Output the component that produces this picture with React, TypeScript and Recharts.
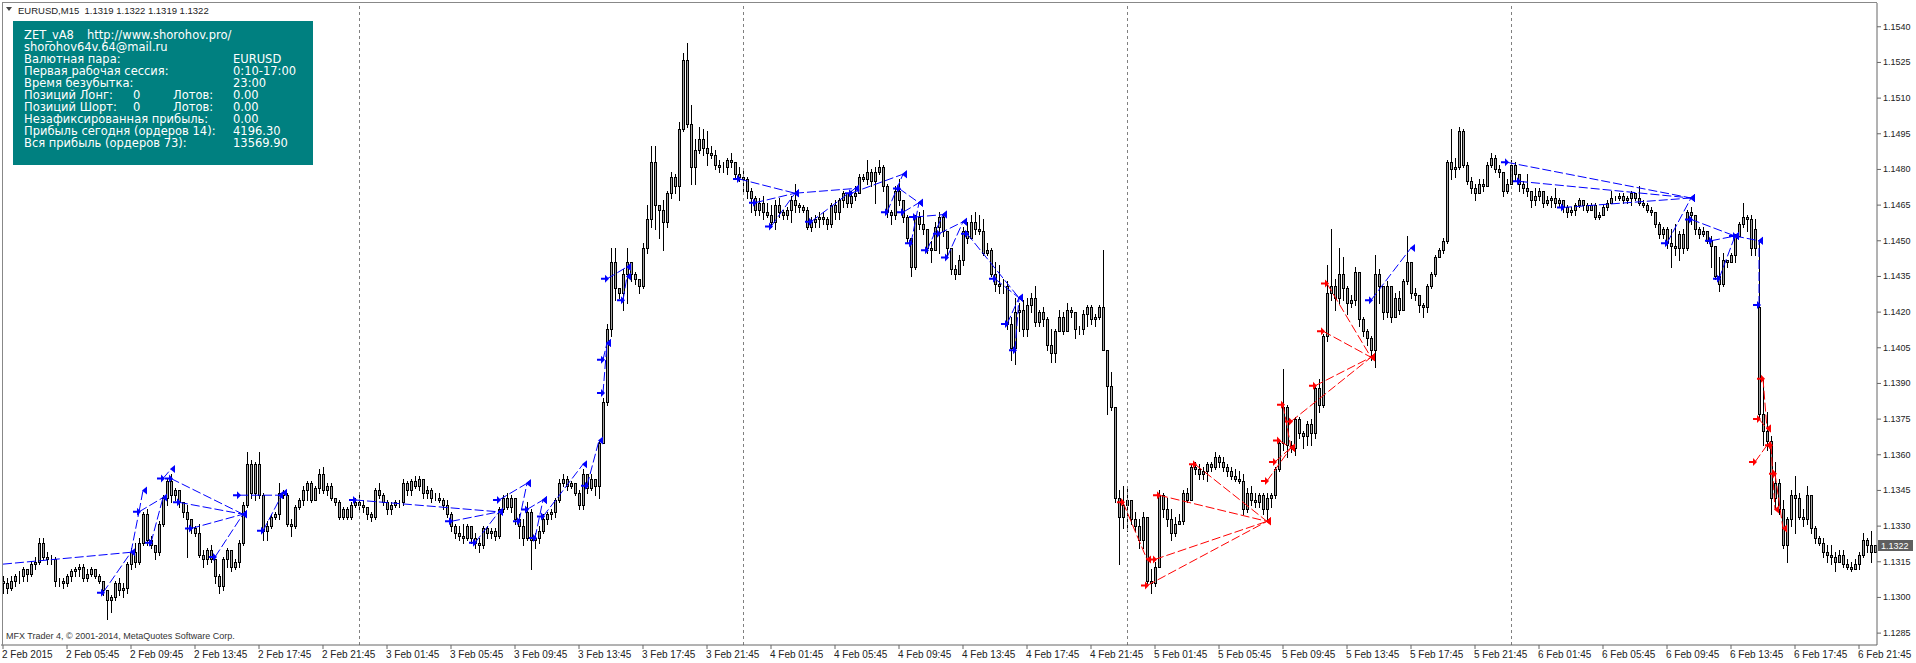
import { Bar, ComposedChart, ReferenceDot, ReferenceLine, XAxis, YAxis } from "recharts";

const BASE = 1.1;
const PIP = 0.0001;
const FONT = "'Liberation Sans', Arial, sans-serif";
const BOX_FONT = "'DejaVu Sans', Verdana, sans-serif";

// EURUSD M15 bars as [high, low, close] in pips above 1.1000 (open = previous close)
const feb2Bars = [
  [309, 302, 306], [308, 302, 304], [309, 303, 307], [310, 305, 309], [311, 306, 309], [313, 307, 312], [312, 307, 310], [315, 309, 314], [317, 312, 315], [325, 314, 323],
  [325, 316, 317], [319, 314, 316], [318, 314, 316], [317, 305, 307], [308, 305, 307], [308, 304, 306], [310, 305, 309], [312, 307, 311], [313, 309, 312], [314, 309, 313],
  [314, 307, 308], [312, 307, 310], [313, 309, 312], [312, 308, 309], [310, 306, 307], [306, 301, 303], [302, 291, 299], [301, 294, 300], [307, 299, 306], [308, 301, 303],
  [306, 300, 304], [315, 302, 314], [321, 312, 319], [323, 313, 315], [325, 314, 323], [336, 322, 335], [337, 322, 324], [326, 321, 322], [322, 316, 319], [332, 318, 331],
  [343, 330, 342], [350, 339, 349], [352, 340, 343], [346, 341, 345], [345, 338, 340], [340, 334, 336], [339, 317, 333], [333, 327, 329], [330, 326, 327], [331, 317, 318],
  [320, 313, 316], [321, 314, 320], [322, 315, 316], [316, 306, 309], [310, 302, 305], [317, 303, 316], [321, 313, 320], [320, 311, 313], [316, 312, 315], [324, 313, 323],
  [340, 322, 339], [361, 338, 356], [358, 342, 344], [357, 341, 356], [361, 342, 343], [344, 324, 328], [332, 324, 330], [335, 329, 334], [336, 333, 335], [348, 333, 344],
  [345, 342, 343], [344, 330, 331], [333, 326, 330], [339, 329, 338], [342, 337, 341], [347, 339, 345], [349, 341, 348], [349, 340, 341], [347, 342, 346], [354, 344, 352],
  [355, 344, 345], [348, 343, 347], [348, 341, 342], [342, 339, 340], [341, 333, 334], [338, 333, 337], [338, 333, 334], [340, 333, 339], [342, 338, 340],
];

const feb3Bars = [
  [343, 337, 339], [341, 336, 338], [338, 333, 335], [336, 332, 334], [346, 333, 345], [348, 342, 343], [344, 339, 340], [341, 335, 337], [340, 335, 339], [341, 338, 340],
  [341, 338, 340], [350, 339, 348], [349, 343, 345], [350, 343, 349], [351, 346, 347], [351, 345, 350], [349, 342, 344], [347, 342, 345], [346, 340, 342], [344, 341, 342],
  [344, 340, 341], [342, 337, 339], [341, 334, 335], [336, 328, 330], [331, 325, 327], [330, 324, 326], [331, 323, 325], [331, 324, 330], [330, 323, 325], [327, 321, 323],
  [325, 319, 322], [330, 321, 329], [330, 325, 327], [329, 325, 328], [329, 324, 326], [338, 325, 337], [343, 336, 342], [344, 337, 338], [343, 336, 342], [342, 331, 333],
  [335, 325, 330], [333, 322, 325], [340, 324, 336], [337, 312, 324], [327, 321, 325], [330, 323, 328], [335, 327, 333], [336, 331, 335], [337, 333, 336], [342, 334, 341],
  [350, 340, 348], [352, 347, 350], [351, 345, 347], [349, 346, 348], [348, 343, 344], [345, 337, 339], [354, 337, 352], [349, 344, 346], [352, 345, 350], [350, 343, 347],
  [366, 342, 365], [384, 365, 382], [415, 381, 413], [447, 410, 441], [447, 425, 430], [430, 426, 428], [438, 421, 436], [447, 424, 441], [440, 433, 436], [437, 432, 434],
  [433, 428, 431], [449, 430, 447], [465, 445, 459], [490, 456, 483], [490, 455, 465], [465, 451, 463], [467, 446, 458], [471, 456, 470], [479, 468, 477], [478, 470, 473],
  [500, 467, 497], [529, 496, 526], [533, 498, 499], [507, 474, 481], [493, 474, 488], [498, 487, 493], [497, 486, 489], [496, 482, 487], [490, 485, 486], [488, 480, 482],
  [484, 479, 481], [483, 479, 481], [485, 478, 484], [487, 481, 483], [483, 476, 478], [481, 475, 477],
];

const feb4Bars = [
  [480, 470, 476], [477, 468, 471], [472, 462, 468], [469, 461, 463], [468, 461, 466], [469, 459, 462], [466, 460, 461], [465, 456, 458], [467, 455, 465], [468, 460, 462],
  [463, 459, 461], [464, 459, 463], [469, 458, 467], [474, 462, 465], [466, 462, 464], [465, 462, 463], [464, 455, 456], [460, 454, 458], [461, 456, 459], [462, 456, 460],
  [462, 457, 459], [460, 455, 457], [466, 456, 465], [467, 459, 462], [468, 459, 467], [471, 464, 470], [470, 464, 466], [471, 464, 469], [473, 467, 470], [478, 470, 477],
  [478, 475, 476], [484, 474, 479], [480, 473, 475], [481, 466, 479], [484, 478, 481], [482, 471, 473], [474, 460, 462], [463, 457, 461], [473, 459, 471], [476, 465, 467],
  [466, 458, 460], [461, 449, 451], [451, 435, 439], [461, 438, 460], [462, 455, 457], [463, 453, 455], [455, 445, 447], [450, 441, 446], [458, 448, 456], [462, 445, 460],
  [461, 452, 454], [450, 443, 447], [443, 436, 438], [440, 434, 436], [444, 437, 442], [456, 440, 454], [458, 449, 451], [461, 452, 458], [462, 453, 455], [461, 453, 454],
  [459, 444, 445], [449, 444, 446], [447, 435, 436], [441, 429, 432], [440, 428, 431], [434, 428, 431], [433, 413, 415], [418, 400, 405], [426, 398, 420], [424, 412, 421],
  [425, 410, 413], [426, 410, 423], [428, 420, 426], [431, 414, 416], [421, 414, 420], [422, 414, 417], [418, 404, 406], [413, 399, 403], [413, 399, 412], [421, 413, 418],
  [420, 411, 412], [424, 417, 421], [422, 418, 420], [420, 409, 413], [414, 411, 413], [421, 411, 419], [423, 414, 422], [423, 415, 417], [419, 414, 418], [423, 417, 422],
  [446, 404, 404], [404, 377, 389], [395, 379, 380], [380, 340, 342], [345, 314, 334], [347, 329, 339],
];

const feb5Bars = [
  [346, 328, 341], [338, 331, 333], [336, 328, 330], [333, 321, 324], [336, 321, 334], [325, 306, 307], [312, 302, 306], [315, 305, 313], [345, 315, 343], [344, 334, 337],
  [342, 330, 333], [337, 324, 327], [334, 326, 331], [335, 331, 332], [345, 331, 344], [346, 340, 341], [356, 341, 355], [357, 352, 354], [356, 350, 352], [355, 350, 353],
  [357, 349, 356], [357, 353, 355], [361, 354, 359], [360, 355, 357], [359, 353, 355], [356, 351, 353], [355, 350, 351], [354, 349, 350], [353, 348, 349], [352, 335, 337],
  [346, 336, 344], [347, 339, 341], [344, 338, 340], [344, 338, 343], [344, 335, 337], [344, 332, 342], [344, 338, 343], [355, 342, 354], [366, 353, 365], [396, 362, 380],
  [381, 359, 364], [366, 361, 363], [376, 360, 375], [376, 367, 369], [370, 363, 368], [374, 364, 373], [375, 364, 369], [389, 367, 388], [392, 378, 381], [411, 380, 410],
  [440, 408, 428], [455, 425, 431], [434, 421, 426], [447, 424, 436], [443, 425, 430], [431, 419, 424], [427, 422, 425], [439, 423, 437], [436, 414, 417], [418, 410, 412],
  [413, 406, 409], [410, 400, 404], [444, 397, 436], [438, 424, 431], [431, 417, 420], [433, 418, 431], [431, 416, 418], [428, 418, 426], [429, 419, 421], [434, 426, 433],
  [452, 432, 441], [441, 426, 428], [430, 425, 427], [427, 420, 423], [424, 418, 422], [432, 420, 431], [437, 430, 436], [444, 435, 443], [447, 443, 446], [451, 445, 450],
  [484, 449, 483], [497, 476, 480], [485, 477, 481], [498, 480, 496], [497, 481, 482], [483, 474, 475], [477, 470, 472], [474, 467, 470], [476, 470, 474], [476, 471, 473],
  [483, 474, 482], [487, 481, 485], [486, 479, 480], [482, 477, 479], [479, 469, 471], [476, 470, 474],
];

const feb6Bars = [
  [484, 474, 482], [483, 475, 478], [477, 471, 474], [475, 470, 472], [478, 469, 471], [471, 464, 467], [472, 465, 469], [472, 467, 471], [469, 464, 466], [469, 465, 467],
  [469, 464, 468], [472, 464, 466], [468, 464, 467], [467, 462, 464], [465, 460, 462], [464, 461, 463], [466, 461, 465], [468, 464, 467], [467, 463, 465], [466, 462, 463],
  [466, 463, 465], [466, 459, 460], [462, 459, 461], [465, 461, 464], [467, 463, 466], [471, 466, 468], [469, 467, 468], [470, 467, 469], [470, 466, 467], [469, 466, 468],
  [471, 465, 470], [470, 467, 468], [473, 465, 466], [467, 464, 465], [466, 462, 463], [464, 461, 462], [462, 456, 457], [458, 451, 453], [456, 451, 455], [456, 447, 449],
  [455, 439, 448], [457, 444, 447], [454, 442, 453], [455, 445, 447], [463, 446, 462], [464, 457, 461], [460, 453, 455], [456, 451, 453], [456, 452, 454], [452, 449, 450],
  [452, 439, 448], [447, 434, 435], [443, 429, 432], [445, 431, 442], [442, 439, 441], [445, 441, 444], [453, 441, 452], [458, 452, 457], [466, 456, 460], [461, 454, 459],
  [461, 444, 447], [459, 444, 455], [450, 376, 377], [392, 364, 370], [378, 362, 366], [368, 335, 342], [357, 337, 348], [350, 335, 337], [341, 321, 322], [334, 315, 333],
  [345, 330, 343], [351, 327, 342], [344, 333, 334], [337, 330, 333], [347, 331, 343], [343, 327, 329], [330, 323, 325], [326, 322, 323], [325, 317, 319], [322, 315, 318],
  [322, 314, 317], [319, 311, 315], [320, 317, 318], [320, 313, 314], [316, 312, 313], [315, 311, 312], [316, 312, 314], [319, 312, 318], [327, 317, 324], [325, 319, 322],
  [328, 315, 319], [322, 319, 322],
];

const firstOpen = 307;
// bars that opened with a gap: [bar index, open pips]
const gapOpens = [[439, 422]];

const timeLabels = [
  "2 Feb 2015", "2 Feb 05:45", "2 Feb 09:45", "2 Feb 13:45", "2 Feb 17:45", "2 Feb 21:45",
  "3 Feb 01:45", "3 Feb 05:45", "3 Feb 09:45", "3 Feb 13:45", "3 Feb 17:45", "3 Feb 21:45",
  "4 Feb 01:45", "4 Feb 05:45", "4 Feb 09:45", "4 Feb 13:45", "4 Feb 17:45", "4 Feb 21:45",
  "5 Feb 01:45", "5 Feb 05:45", "5 Feb 09:45", "5 Feb 13:45", "5 Feb 17:45", "5 Feb 21:45",
  "6 Feb 01:45", "6 Feb 05:45", "6 Feb 09:45", "6 Feb 13:45", "6 Feb 17:45", "6 Feb 21:45",
];

const priceTicks = [
  1.1285, 1.13, 1.1315, 1.133, 1.1345, 1.136, 1.1375, 1.139, 1.1405,
  1.142, 1.1435, 1.145, 1.1465, 1.148, 1.1495, 1.151, 1.1525, 1.154,
];

// trades: [openBar, openPips, closeBar, closePips]
const buyTrades = [
  [25, 302, 32, 319], [34, 336, 35, 345], [37, 323, 40, 342], [40, 350, 42, 354], [42, 350, 60, 335],
  [44, 340, 60, 335], [47, 329, 60, 335], [53, 317, 60, 335], [59, 343, 69, 343], [65, 328, 70, 344],
  [88, 341, 124, 336], [112, 332, 124, 336], [118, 323, 124, 336], [124, 341, 131, 348], [129, 332, 131, 348],
  [131, 337, 135, 341], [133, 325, 135, 341], [135, 334, 145, 356], [146, 347, 149, 366], [150, 400, 151, 407],
  [150, 386, 151, 407], [151, 434, 156, 439], [155, 425, 156, 435], [184, 476, 198, 470], [188, 466, 198, 470],
  [192, 456, 198, 470], [202, 458, 213, 472], [212, 470, 225, 478], [221, 462, 225, 478], [224, 472, 229, 466],
  [225, 462, 229, 466], [227, 449, 229, 466], [228, 460, 235, 461], [231, 446, 235, 461], [234, 453, 240, 458],
  [236, 443, 240, 458], [241, 453, 254, 426], [248, 434, 254, 426], [251, 415, 254, 426], [253, 404, 254, 426],
  [342, 425, 352, 447], [376, 483, 422, 468], [379, 475, 422, 468], [390, 464, 422, 468], [416, 449, 422, 468],
  [422, 459, 433, 452], [427, 450, 433, 452], [429, 434, 433, 452], [433, 452, 439, 450], [439, 423, 439, 450],
];

const buyLinks = [
  [0, 314, 32, 319], [32, 319, 34, 336], [34, 336, 40, 342], [198, 470, 213, 472],
];

const sellTrades = [
  [280, 340, 286, 316], [286, 305, 316, 332], [288, 316, 316, 332], [289, 343, 316, 332], [298, 356, 316, 332],
  [316, 349, 322, 363], [318, 357, 322, 363], [319, 366, 322, 363], [320, 381, 322, 363], [322, 374, 342, 401],
  [328, 389, 342, 401], [330, 412, 342, 401], [331, 432, 342, 401], [440, 392, 441, 371], [439, 375, 441, 371],
  [438, 357, 441, 364], [442, 364, 443, 337], [443, 352, 445, 329],
];

const px = (p: number) => BASE + p * PIP;

type Row = { i: number; o: number; h: number; l: number; c: number; range: [number, number] };

const days = [feb2Bars, feb3Bars, feb4Bars, feb5Bars, feb6Bars];
const gapMap = new Map(gapOpens.map(([i, o]) => [i, o]));
const rows: Row[] = [];
const dayStarts: number[] = [];
let prevClose = firstOpen;
days.forEach((day, d) => {
  if (d > 0) dayStarts.push(rows.length);
  day.forEach(([h, l, c]) => {
    const o = gapMap.get(rows.length) ?? prevClose;
    const hi = Math.max(h, o, c);
    const lo = Math.min(l, o, c);
    rows.push({ i: rows.length, o, h: hi, l: lo, c, range: [px(lo), px(hi)] });
    prevClose = c;
  });
});
const lastBar = rows[rows.length - 1];
const timeTicks = timeLabels.map((_, k) => k * 16);

function Candle(props: any) {
  const { x, y, width, height, payload } = props;
  const cx = Math.round(x + width / 2);
  const { o, h, l, c } = payload as Row;
  const span = h - l || 1;
  const py = (v: number) => y + ((h - v) / span) * height;
  const top = Math.round(py(Math.max(o, c)));
  const bot = Math.round(py(Math.min(o, c)));
  return (
    <g>
      <line x1={cx + 0.5} x2={cx + 0.5} y1={Math.round(y)} y2={Math.round(y + height) + 1} stroke="#000" strokeWidth={1} />
      <rect x={cx - 0.5} y={top + 0.5} width={2} height={Math.max(bot - top, 0)} fill="#a0a0a0" stroke="#000" strokeWidth={1} />
    </g>
  );
}

function OpenMark({ cx, cy, color }: any) {
  const pts = [
    [cx - 6, cy - 1], [cx - 2, cy - 1], [cx - 2, cy - 4], [cx + 2, cy], [cx - 2, cy + 4], [cx - 2, cy + 1], [cx - 6, cy + 1],
  ].map((p) => p.join(",")).join(" ");
  return <polygon points={pts} fill={color} />;
}

function CloseMark({ cx, cy, color }: any) {
  return <polygon points={`${cx - 1},${cy} ${cx + 4},${cy - 4} ${cx + 4},${cy + 4}`} fill={color} />;
}

function TimeTick({ x, y, payload }: any) {
  return (
    <text x={x - 1} y={y + 7} fontSize={10} fontFamily={FONT} fill="#222">
      {timeLabels[payload.value / 16]}
    </text>
  );
}

function PriceTick({ x, y, payload }: any) {
  return (
    <text x={x} y={y + 3} fontSize={9} fontFamily={FONT} fill="#222">
      {Number(payload.value).toFixed(4)}
    </text>
  );
}

function PriceTag({ cx, cy }: any) {
  const y0 = Math.round(cy) - 5;
  return (
    <g>
      <rect x={cx + 3} y={y0} width={35} height={11} fill="#5f5f5f" />
      <text x={cx + 6} y={y0 + 9} fontSize={9} fontFamily={FONT} fill="#fff">
        {px(lastBar.c).toFixed(4)}
      </text>
    </g>
  );
}

function tradeElements(list: number[][], color: string, key: string, marks: boolean) {
  const out: any[] = [];
  list.forEach(([b1, p1, b2, p2], k) => {
    out.push(
      <ReferenceLine
        key={`${key}l${k}`}
        segment={[{ x: b1, y: px(p1) }, { x: b2, y: px(p2) }]}
        stroke={color}
        strokeWidth={1}
        strokeDasharray="9 3"
        ifOverflow="visible"
      />
    );
    if (marks) {
      out.push(
        <ReferenceDot key={`${key}o${k}`} x={b1} y={px(p1)} r={3} ifOverflow="visible"
          shape={(p: any) => <OpenMark cx={p.cx} cy={p.cy} color={color} />} />,
        <ReferenceDot key={`${key}c${k}`} x={b2} y={px(p2)} r={3} ifOverflow="visible"
          shape={(p: any) => <CloseMark cx={p.cx} cy={p.cy} color={color} />} />
      );
    }
  });
  return out;
}

const Cell = ({ left, children }: any) => (
  <span style={{ position: "absolute", left, top: 0, whiteSpace: "pre" }}>{children}</span>
);

const infoRows: [number, string][][] = [
  [[11, "ZET_vA8"], [74, "http://www.shorohov.pro/"]],
  [[11, "shorohov64v.64@mail.ru"]],
  [[11, "Валютная пара:"], [220, "EURUSD"]],
  [[11, "Первая рабочая сессия:"], [220, "0:10-17:00"]],
  [[11, "Время безубытка:"], [220, "23:00"]],
  [[11, "Позиций Лонг:"], [120, "0"], [160, "Лотов:"], [220, "0.00"]],
  [[11, "Позиций Шорт:"], [120, "0"], [160, "Лотов:"], [220, "0.00"]],
  [[11, "Незафиксированная прибыль:"], [220, "0.00"]],
  [[11, "Прибыль сегодня (ордеров 14):"], [220, "4196.30"]],
  [[11, "Вся прибыль (ордеров 73):"], [220, "13569.90"]],
];

export default function App() {
  const header = `EURUSD,M15  ${px(lastBar.o).toFixed(4)} ${px(lastBar.h).toFixed(4)} ${px(lastBar.l).toFixed(4)} ${px(lastBar.c).toFixed(4)}`;
  return (
    <div style={{ position: "absolute", left: 0, top: 0, width: 1916, height: 663, background: "#fff", overflow: "hidden" }}>
      <ComposedChart
        width={1916}
        height={663}
        data={rows}
        margin={{ top: 3, right: 0, bottom: 0, left: 1 }}
        barCategoryGap={0}
      >
        <XAxis
          dataKey="i"
          type="category"
          ticks={timeTicks}
          interval={0}
          height={18}
          tickSize={4}
          tick={<TimeTick />}
          axisLine={{ stroke: "#666" }}
          tickLine={{ stroke: "#666" }}
        />
        <YAxis
          orientation="right"
          width={39}
          domain={[1.128, 1.155]}
          allowDataOverflow
          ticks={priceTicks}
          interval={0}
          tickSize={4}
          tick={<PriceTick />}
          axisLine={{ stroke: "#666" }}
          tickLine={{ stroke: "#666" }}
        />
        {dayStarts.map((s) => (
          <ReferenceLine
            key={`sep${s}`}
            x={s}
            stroke="#808080"
            strokeDasharray="3 3"
            shape={(p: any) => (
              <line x1={p.x1 + 0.5} x2={p.x2 + 0.5} y1={p.y1} y2={p.y2} stroke="#808080" strokeDasharray="3 3" />
            )}
          />
        ))}
        <Bar dataKey="range" shape={<Candle />} isAnimationActive={false} />
        {tradeElements(buyLinks, "#0000ff", "bl", false)}
        {tradeElements(buyTrades, "#0000ff", "b", true)}
        {tradeElements(sellTrades, "#ff0000", "s", true)}
        <ReferenceDot x={lastBar.i} y={px(lastBar.c)} r={2} ifOverflow="visible" shape={(p: any) => <PriceTag cx={p.cx} cy={p.cy} />} />
      </ComposedChart>

      <div style={{ position: "absolute", left: 2, top: 2, width: 1875, height: 1, background: "#888" }} />
      <div style={{ position: "absolute", left: 2, top: 2, width: 1, height: 643, background: "#888" }} />

      <div style={{ position: "absolute", left: 6, top: 7, width: 0, height: 0, borderLeft: "3px solid transparent", borderRight: "3px solid transparent", borderTop: "4px solid #444" }} />
      <div style={{ position: "absolute", left: 18, top: 5, fontFamily: FONT, fontSize: 9.5, color: "#222", whiteSpace: "pre", lineHeight: "12px" }}>
        {header}
      </div>

      <div style={{ position: "absolute", left: 13, top: 21, width: 300, height: 144, background: "#008080", color: "#fff", fontFamily: BOX_FONT, fontSize: 11.5, lineHeight: "12px" }}>
        {infoRows.map((cells, r) => (
          <div key={r} style={{ position: "absolute", left: 0, top: 8 + r * 12.04, height: 12, width: 300 }}>
            {cells.map(([left, text]) => (
              <Cell key={left} left={left}>{text}</Cell>
            ))}
          </div>
        ))}
      </div>

      <div style={{ position: "absolute", left: 6, top: 631, fontFamily: FONT, fontSize: 9, color: "#333", whiteSpace: "pre", lineHeight: "11px" }}>
        MFX Trader 4, © 2001-2014, MetaQuotes Software Corp.
      </div>
    </div>
  );
}
